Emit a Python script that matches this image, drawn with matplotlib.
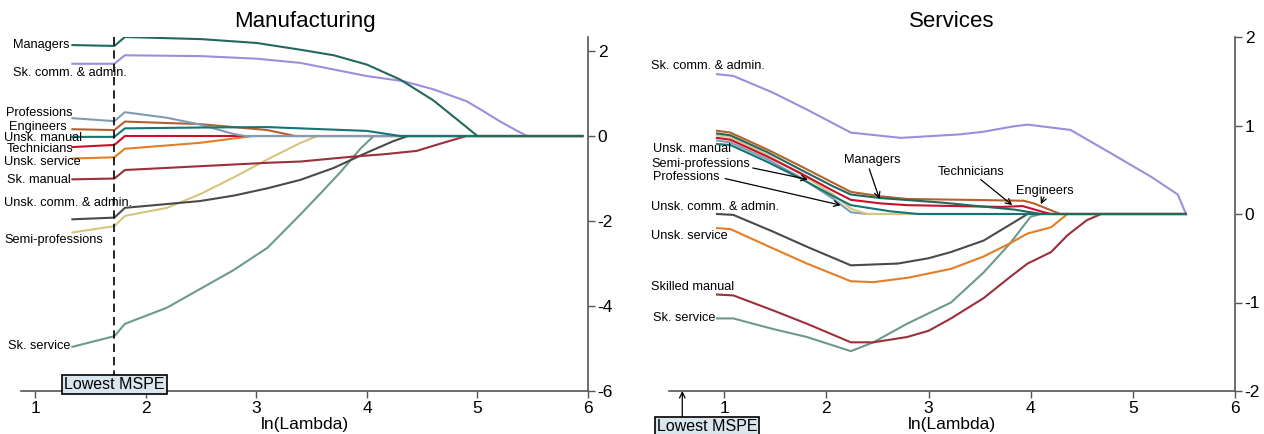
import numpy as np
import matplotlib.pyplot as plt

plt.rcParams['font.family'] = ['Liberation Sans', 'DejaVu Sans']
plt.rcParams['axes.unicode_minus'] = False

# colours per occupation
cManagers = '#23685c'
cSkComm = '#9a8fdc'
cProf = '#7f9cb5'
cEng = '#b5612f'
cUnskMan = '#157574'
cTech = '#c8102e'
cUnskServ = '#e57d25'
cSkMan = '#9c2f3b'
cUnskComm = '#4a4a4a'
cSemi = '#d3c67e'
cSkServ = '#6c9a8b'

# ---------------- Manufacturing: ln(lambda) and coefficients ----------------
mfMgrX = [1.335, 1.715, 1.81, 2.5, 3.0, 3.4, 3.7, 4.0, 4.3, 4.6, 4.82, 5.0, 5.95]
mfMgrY = [2.14, 2.12, 2.33, 2.28, 2.19, 2.03, 1.9, 1.68, 1.33, 0.84, 0.38, 0, 0]
mfSkCommX = [1.335, 1.715, 1.81, 2.5, 3.0, 3.4, 4.0, 4.33, 4.6, 4.9, 5.05, 5.2, 5.36, 5.45, 5.95]
mfSkCommY = [1.7, 1.7, 1.9, 1.88, 1.82, 1.72, 1.41, 1.29, 1.1, 0.82, 0.59, 0.35, 0.12, 0, 0]
mfProfX = [1.335, 1.715, 1.81, 2.19, 2.49, 2.79, 2.9, 5.95]
mfProfY = [0.42, 0.35, 0.56, 0.43, 0.27, 0.05, 0, 0]
mfEngX = [1.335, 1.715, 1.81, 2.49, 3.1, 3.35, 5.95]
mfEngY = [0.16, 0.14, 0.34, 0.28, 0.14, 0, 0]
mfUnskManX = [1.335, 1.715, 1.81, 2.5, 3.1, 3.4, 4.0, 4.3, 5.95]
mfUnskManY = [-0.02, -0.02, 0.18, 0.2, 0.21, 0.18, 0.12, 0, 0]
mfTechX = [1.335, 1.715, 1.81, 5.95]
mfTechY = [-0.26, -0.21, 0, 0]
mfUnskServX = [1.335, 1.715, 1.81, 2.49, 2.97, 5.95]
mfUnskServY = [-0.53, -0.5, -0.3, -0.16, 0, 0]
mfSkManX = [1.335, 1.715, 1.81, 3.1, 3.4, 3.85, 4.15, 4.45, 4.69, 4.9, 5.95]
mfSkManY = [-1.02, -1.0, -0.8, -0.63, -0.6, -0.49, -0.43, -0.35, -0.16, 0, 0]
mfUnskCommX = [1.335, 1.715, 1.81, 2.49, 2.8, 3.1, 3.4, 3.7, 4.0, 4.24, 4.37, 5.95]
mfUnskCommY = [-1.96, -1.92, -1.69, -1.53, -1.4, -1.23, -1.03, -0.75, -0.39, -0.12, 0, 0]
mfSemiX = [1.335, 1.715, 1.81, 2.19, 2.49, 2.79, 3.1, 3.4, 3.55, 5.95]
mfSemiY = [-2.27, -2.12, -1.88, -1.69, -1.37, -0.98, -0.55, -0.16, 0, 0]
mfSkServX = [1.335, 1.715, 1.81, 2.19, 2.49, 2.79, 3.1, 3.4, 3.58, 3.76, 3.94, 4.06, 5.95]
mfSkServY = [-4.96, -4.71, -4.42, -4.04, -3.6, -3.16, -2.63, -1.84, -1.35, -0.85, -0.3, 0, 0]
mfLowest = 1.715

# ---------------- Services ----------------
svSkCommX = [0.93, 1.09, 1.48, 1.81, 2.14, 2.24, 2.73, 3.31, 3.54, 3.83, 3.97, 4.39, 4.78, 5.18, 5.44, 5.52]
svSkCommY = [1.58, 1.56, 1.37, 1.18, 0.98, 0.92, 0.86, 0.9, 0.93, 0.99, 1.01, 0.95, 0.69, 0.42, 0.22, 0]
svEngX = [0.93, 1.06, 1.42, 1.75, 2.07, 2.24, 2.53, 2.79, 3.93, 4.03, 4.29, 5.52]
svEngY = [0.94, 0.92, 0.73, 0.54, 0.35, 0.25, 0.2, 0.17, 0.15, 0.12, 0, 0]
svSemiX = [0.93, 1.06, 1.42, 1.75, 2.07, 2.24, 2.4, 5.52]
svSemiY = [0.89, 0.87, 0.67, 0.45, 0.22, 0.06, 0, 0]
svTechX = [0.93, 1.06, 1.42, 1.75, 2.07, 2.24, 2.53, 2.79, 3.72, 3.92, 4.13, 4.2, 5.52]
svTechY = [0.86, 0.84, 0.65, 0.46, 0.26, 0.16, 0.12, 0.1, 0.08, 0.09, 0.02, 0, 0]
svProfX = [0.93, 1.06, 1.42, 1.75, 2.07, 2.24, 2.4, 5.52]
svProfY = [0.83, 0.81, 0.62, 0.41, 0.17, 0.02, 0, 0]
svUnskManX = [0.93, 1.06, 1.42, 1.75, 2.07, 2.24, 2.63, 2.9, 5.52]
svUnskManY = [0.79, 0.78, 0.59, 0.4, 0.2, 0.1, 0.03, 0, 0]
svMgrX = [0.93, 1.06, 1.42, 1.75, 2.07, 2.24, 2.53, 3.12, 3.84, 4.1, 5.52]
svMgrY = [0.91, 0.89, 0.7, 0.5, 0.31, 0.22, 0.18, 0.13, 0.05, 0, 0]
svUnskCommX = [0.93, 1.09, 1.48, 1.81, 2.24, 2.7, 3.0, 3.22, 3.54, 3.87, 3.97, 5.52]
svUnskCommY = [0, -0.01, -0.2, -0.37, -0.58, -0.56, -0.5, -0.43, -0.3, -0.07, 0, 0]
svUnskServX = [0.93, 1.06, 1.48, 1.81, 2.24, 2.46, 2.8, 3.22, 3.54, 3.8, 3.97, 4.2, 4.36, 5.52]
svUnskServY = [-0.16, -0.17, -0.39, -0.56, -0.76, -0.77, -0.72, -0.62, -0.48, -0.33, -0.22, -0.15, 0, 0]
svSkManX = [0.93, 1.09, 1.48, 1.81, 2.24, 2.46, 2.79, 3.0, 3.22, 3.54, 3.8, 3.97, 4.2, 4.36, 4.55, 4.69, 5.52]
svSkManY = [-0.91, -0.92, -1.09, -1.24, -1.45, -1.45, -1.39, -1.32, -1.18, -0.95, -0.71, -0.56, -0.43, -0.24, -0.07, 0, 0]
svSkServX = [0.93, 1.09, 1.48, 1.81, 2.24, 2.46, 2.79, 3.22, 3.54, 3.8, 4.0, 4.1, 5.52]
svSkServY = [-1.18, -1.18, -1.3, -1.39, -1.55, -1.45, -1.24, -1.0, -0.66, -0.33, -0.03, 0, 0]
svLowest = 0.59

W, H = 1264, 434
f = plt.figure(figsize=(W / 100, H / 100), dpi=100)
ax1 = f.add_axes([21 / W, 1 - 391 / H, (588 - 21) / W, (391 - 37) / H])
ax2 = f.add_axes([669 / W, 1 - 391 / H, (1235 - 669) / W, (391 - 37) / H])

lw = 1.5
fs = 9.2
boxStyle = dict(boxstyle='square,pad=0.12', fc='#dae6ee', ec='black', lw=1.2)


def style_axes(ax, xlim, ylim, yticks, title):
    ax.set_xlim(*xlim)
    ax.set_ylim(*ylim)
    for s in ['left', 'top']:
        ax.spines[s].set_visible(False)
    for s in ['right', 'bottom']:
        ax.spines[s].set_color('#555555')
        ax.spines[s].set_linewidth(1.2)
    ax.yaxis.tick_right()
    ax.set_xticks([1, 2, 3, 4, 5, 6])
    ax.set_yticks(yticks)
    ax.tick_params(axis='both', direction='out', length=5, width=1, color='#555555',
                   labelsize=12.5, pad=2)
    ax.set_xlabel('ln(Lambda)', fontsize=12.5, labelpad=1)
    ax.set_title(title, fontsize=16, pad=7)


# Manufacturing
ax1.plot(mfSkServX, mfSkServY, color=cSkServ, lw=lw)
ax1.plot(mfSemiX, mfSemiY, color=cSemi, lw=lw)
ax1.plot(mfUnskCommX, mfUnskCommY, color=cUnskComm, lw=lw)
ax1.plot(mfSkManX, mfSkManY, color=cSkMan, lw=lw)
ax1.plot(mfUnskServX, mfUnskServY, color=cUnskServ, lw=lw)
ax1.plot(mfTechX, mfTechY, color=cTech, lw=lw)
ax1.plot(mfEngX, mfEngY, color=cEng, lw=lw)
ax1.plot(mfProfX, mfProfY, color=cProf, lw=lw)
ax1.plot(mfUnskManX, mfUnskManY, color=cUnskMan, lw=lw)
ax1.plot(mfSkCommX, mfSkCommY, color=cSkComm, lw=lw)
ax1.plot(mfMgrX, mfMgrY, color=cManagers, lw=lw)
style_axes(ax1, (0.87, 6), (-6, 2.33), [2, 0, -2, -4, -6], 'Manufacturing')

ax1.plot([mfLowest, mfLowest], [2.33, -5.7], color='black', lw=1.2, ls=(0, (5, 3)))
ax1.text(mfLowest, -5.84, 'Lowest MSPE', ha='center', va='center', fontsize=11.5, bbox=boxStyle)

mfLabels = [
    ('Managers', 1.31, 2.14, 'right'),
    ('Sk. comm. & admin.', 0.80, 1.48, 'left'),
    ('Professions', 1.335, 0.54, 'right'),
    ('Engineers', 1.28, 0.21, 'right'),
    ('Unsk. manual', 0.72, -0.05, 'left'),
    ('Technicians', 0.74, -0.31, 'left'),
    ('Unsk. service', 0.72, -0.61, 'left'),
    ('Sk. manual', 1.32, -1.04, 'right'),
    ('Unsk. comm. & admin.', 0.72, -1.58, 'left'),
    ('Semi-professions', 0.72, -2.45, 'left'),
    ('Sk. service', 1.32, -4.94, 'right'),
]
for txt, x, y, ha in mfLabels:
    ax1.text(x, y, txt, ha=ha, va='center', fontsize=fs)

# Services
ax2.plot(svSkServX, svSkServY, color=cSkServ, lw=lw)
ax2.plot(svSkManX, svSkManY, color=cSkMan, lw=lw)
ax2.plot(svUnskServX, svUnskServY, color=cUnskServ, lw=lw)
ax2.plot(svUnskCommX, svUnskCommY, color=cUnskComm, lw=lw)
ax2.plot(svSkCommX, svSkCommY, color=cSkComm, lw=lw)
ax2.plot(svProfX, svProfY, color=cProf, lw=lw)
ax2.plot(svSemiX, svSemiY, color=cSemi, lw=lw)
ax2.plot(svUnskManX, svUnskManY, color=cUnskMan, lw=lw)
ax2.plot(svTechX, svTechY, color=cTech, lw=lw)
ax2.plot(svEngX, svEngY, color=cEng, lw=lw)
ax2.plot(svMgrX, svMgrY, color=cManagers, lw=lw)
style_axes(ax2, (0.46, 6), (-2, 2), [2, 1, 0, -1, -2], 'Services')

svLabels = [
    ('Sk. comm. & admin.', 0.284, 1.67),
    ('Unsk. manual', 0.30, 0.73),
    ('Semi-professions', 0.29, 0.57),
    ('Professions', 0.30, 0.42),
    ('Unsk. comm. & admin.', 0.284, 0.08),
    ('Unsk. service', 0.284, -0.25),
    ('Skilled manual', 0.284, -0.83),
    ('Sk. service', 0.30, -1.18),
]
for txt, x, y in svLabels:
    ax2.text(x, y, txt, ha='left', va='center', fontsize=fs)

arrowStyle = dict(arrowstyle='->', color='black', lw=0.9, shrinkA=0, shrinkB=0)
svArrows = [
    ('Managers', 2.17, 0.61, 2.42, 0.51, 2.52, 0.17),
    ('Technicians', 3.09, 0.48, 3.51, 0.39, 3.82, 0.10),
    ('Engineers', 3.86, 0.26, 4.13, 0.19, 4.10, 0.11),
]
for txt, tx, ty, x0, y0, x1, y1 in svArrows:
    ax2.text(tx, ty, txt, ha='left', va='center', fontsize=fs)
    ax2.annotate('', xy=(x1, y1), xytext=(x0, y0), arrowprops=arrowStyle)
ax2.annotate('', xy=(1.82, 0.39), xytext=(1.28, 0.52), arrowprops=arrowStyle)
ax2.annotate('', xy=(2.14, 0.10), xytext=(1.01, 0.40), arrowprops=arrowStyle)

ax2.annotate('', xy=(svLowest, -2.0), xytext=(svLowest, -2.31), arrowprops=arrowStyle,
             annotation_clip=False)
ax2.text(0.83, -2.40, 'Lowest MSPE', ha='center', va='center', fontsize=11.5,
         bbox=boxStyle, clip_on=False)

f.savefig('out.png', dpi=100)
